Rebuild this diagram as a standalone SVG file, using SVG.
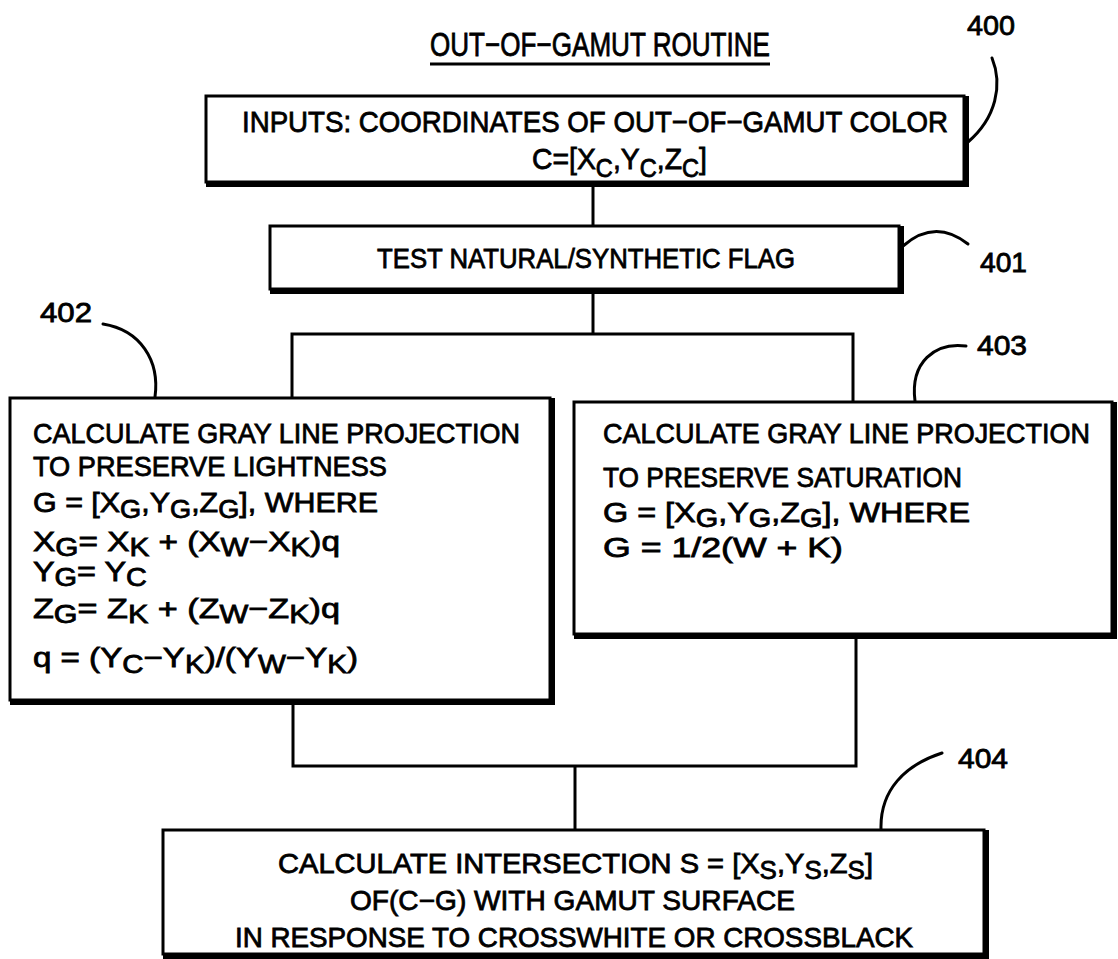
<svg xmlns="http://www.w3.org/2000/svg" width="1118" height="959" viewBox="0 0 1118 959">
<style>
text{font-family:"Liberation Sans Narrow","Liberation Sans",Arial,sans-serif;font-size:28px;fill:#000;stroke:#000;stroke-width:0.8}
.big{font-size:30px}
.title{font-size:34px}
.sub{font-size:25px}
.box{fill:#fff;stroke:#000;stroke-width:3}
.thick{fill:none;stroke:#000;stroke-width:6;stroke-linejoin:miter}
.conn{fill:none;stroke:#000;stroke-width:3}
.lead{fill:none;stroke:#000;stroke-width:3;stroke-linecap:round}
</style>
<rect width="1118" height="959" fill="#fff"/>
<g id="title">
<text class="title" x="430" y="56" textLength="340" lengthAdjust="spacingAndGlyphs">OUT−OF−GAMUT ROUTINE</text>
<line x1="430" y1="64" x2="770" y2="64" stroke="#000" stroke-width="3"/>
</g>
<g id="connectors">
<path class="conn" d="M593,184 V226"/>
<path class="conn" d="M593,292 V334"/>
<path class="conn" d="M292,398 V334 H853 V402"/>
<path class="conn" d="M293,703 V766 H856 V637"/>
<path class="conn" d="M575,766 V830"/>
</g>
<g id="leaders">
<path class="lead" d="M992,58 C1003,85 996,118 968,142"/>
<path class="lead" d="M903,246 Q935,218 968,244"/>
<path class="lead" d="M103,324 C140,330 160,360 155,397"/>
<path class="lead" d="M966,346 C935,342 910,362 915,401"/>
<path class="lead" d="M942,753 C905,765 880,790 881,829"/>
</g>
<g id="n400">
<rect class="box" x="206" y="96" width="758" height="86"/>
<path class="thick" d="M206,184 H966 V96"/>
<text class="big" x="242" y="132" textLength="706" lengthAdjust="spacingAndGlyphs">INPUTS: COORDINATES OF OUT−OF−GAMUT COLOR</text>
<text class="big" x="532" y="169" textLength="175" lengthAdjust="spacingAndGlyphs">C=[X<tspan class="sub" dy="8">C</tspan><tspan dy="-8">,Y</tspan><tspan class="sub" dy="8">C</tspan><tspan dy="-8">,Z</tspan><tspan class="sub" dy="8">C</tspan><tspan dy="-8">]</tspan></text>
<text x="967" y="35" textLength="48" lengthAdjust="spacingAndGlyphs">400</text>
</g>
<g id="n401">
<rect class="box" x="270" y="226" width="629" height="63"/>
<path class="thick" d="M270,291 H901 V226"/>
<text x="377" y="268" textLength="418" lengthAdjust="spacingAndGlyphs">TEST NATURAL/SYNTHETIC FLAG</text>
<text x="980" y="272" textLength="47" lengthAdjust="spacingAndGlyphs">401</text>
</g>
<g id="n402">
<rect class="box" x="10" y="398" width="540" height="302"/>
<path class="thick" d="M10,702 H552 V398"/>
<text x="33" y="443" textLength="487" lengthAdjust="spacingAndGlyphs">CALCULATE GRAY LINE PROJECTION</text>
<text x="33" y="476" textLength="354" lengthAdjust="spacingAndGlyphs">TO PRESERVE LIGHTNESS</text>
<text x="33" y="512" textLength="345" lengthAdjust="spacingAndGlyphs">G = [X<tspan class="sub" dy="6">G</tspan><tspan dy="-6">,Y</tspan><tspan class="sub" dy="6">G</tspan><tspan dy="-6">,Z</tspan><tspan class="sub" dy="6">G</tspan><tspan dy="-6">], WHERE</tspan></text>
<text x="33" y="551" textLength="307" lengthAdjust="spacingAndGlyphs">X<tspan class="sub" dy="5">G</tspan><tspan dy="-5">= X</tspan><tspan class="sub" dy="5">K</tspan><tspan dy="-5"> + (X</tspan><tspan class="sub" dy="5">W</tspan><tspan dy="-5">−X</tspan><tspan class="sub" dy="5">K</tspan><tspan dy="-5">)q</tspan></text>
<text x="33" y="581" textLength="114" lengthAdjust="spacingAndGlyphs">Y<tspan class="sub" dy="5">G</tspan><tspan dy="-5">= Y</tspan><tspan class="sub" dy="5">C</tspan></text>
<text x="33" y="618" textLength="307" lengthAdjust="spacingAndGlyphs">Z<tspan class="sub" dy="5">G</tspan><tspan dy="-5">= Z</tspan><tspan class="sub" dy="5">K</tspan><tspan dy="-5"> + (Z</tspan><tspan class="sub" dy="5">W</tspan><tspan dy="-5">−Z</tspan><tspan class="sub" dy="5">K</tspan><tspan dy="-5">)q</tspan></text>
<text x="33" y="667" textLength="325" lengthAdjust="spacingAndGlyphs">q = (Y<tspan class="sub" dy="6">C</tspan><tspan dy="-6">−Y</tspan><tspan class="sub" dy="6">K</tspan><tspan dy="-6">)/(Y</tspan><tspan class="sub" dy="6">W</tspan><tspan dy="-6">−Y</tspan><tspan class="sub" dy="6">K</tspan><tspan dy="-6">)</tspan></text>
<text x="40" y="322" textLength="52" lengthAdjust="spacingAndGlyphs">402</text>
</g>
<g id="n403">
<rect class="box" x="574" y="402" width="538" height="232"/>
<path class="thick" d="M574,636 H1114 V402"/>
<text x="603" y="443" textLength="487" lengthAdjust="spacingAndGlyphs">CALCULATE GRAY LINE PROJECTION</text>
<text x="603" y="487" textLength="359" lengthAdjust="spacingAndGlyphs">TO PRESERVE SATURATION</text>
<text x="603" y="522" textLength="367" lengthAdjust="spacingAndGlyphs">G = [X<tspan class="sub" dy="5">G</tspan><tspan dy="-5">,Y</tspan><tspan class="sub" dy="5">G</tspan><tspan dy="-5">,Z</tspan><tspan class="sub" dy="5">G</tspan><tspan dy="-5">], WHERE</tspan></text>
<text x="603" y="557" textLength="240" lengthAdjust="spacingAndGlyphs">G = 1/2(W + K)</text>
<text x="977" y="355" textLength="50" lengthAdjust="spacingAndGlyphs">403</text>
</g>
<g id="n404">
<rect class="box" x="163" y="830" width="821" height="124"/>
<path class="thick" d="M163,956 H986 V830"/>
<text x="278" y="873" textLength="595" lengthAdjust="spacingAndGlyphs">CALCULATE INTERSECTION S = [X<tspan class="sub" dy="6">S</tspan><tspan dy="-6">,Y</tspan><tspan class="sub" dy="6">S</tspan><tspan dy="-6">,Z</tspan><tspan class="sub" dy="6">S</tspan><tspan dy="-6">]</tspan></text>
<text x="350" y="910" textLength="445" lengthAdjust="spacingAndGlyphs">OF(C−G) WITH GAMUT SURFACE</text>
<text x="235" y="947" textLength="678" lengthAdjust="spacingAndGlyphs">IN RESPONSE TO CROSSWHITE OR CROSSBLACK</text>
<text x="958" y="768" textLength="50" lengthAdjust="spacingAndGlyphs">404</text>
</g>
</svg>
